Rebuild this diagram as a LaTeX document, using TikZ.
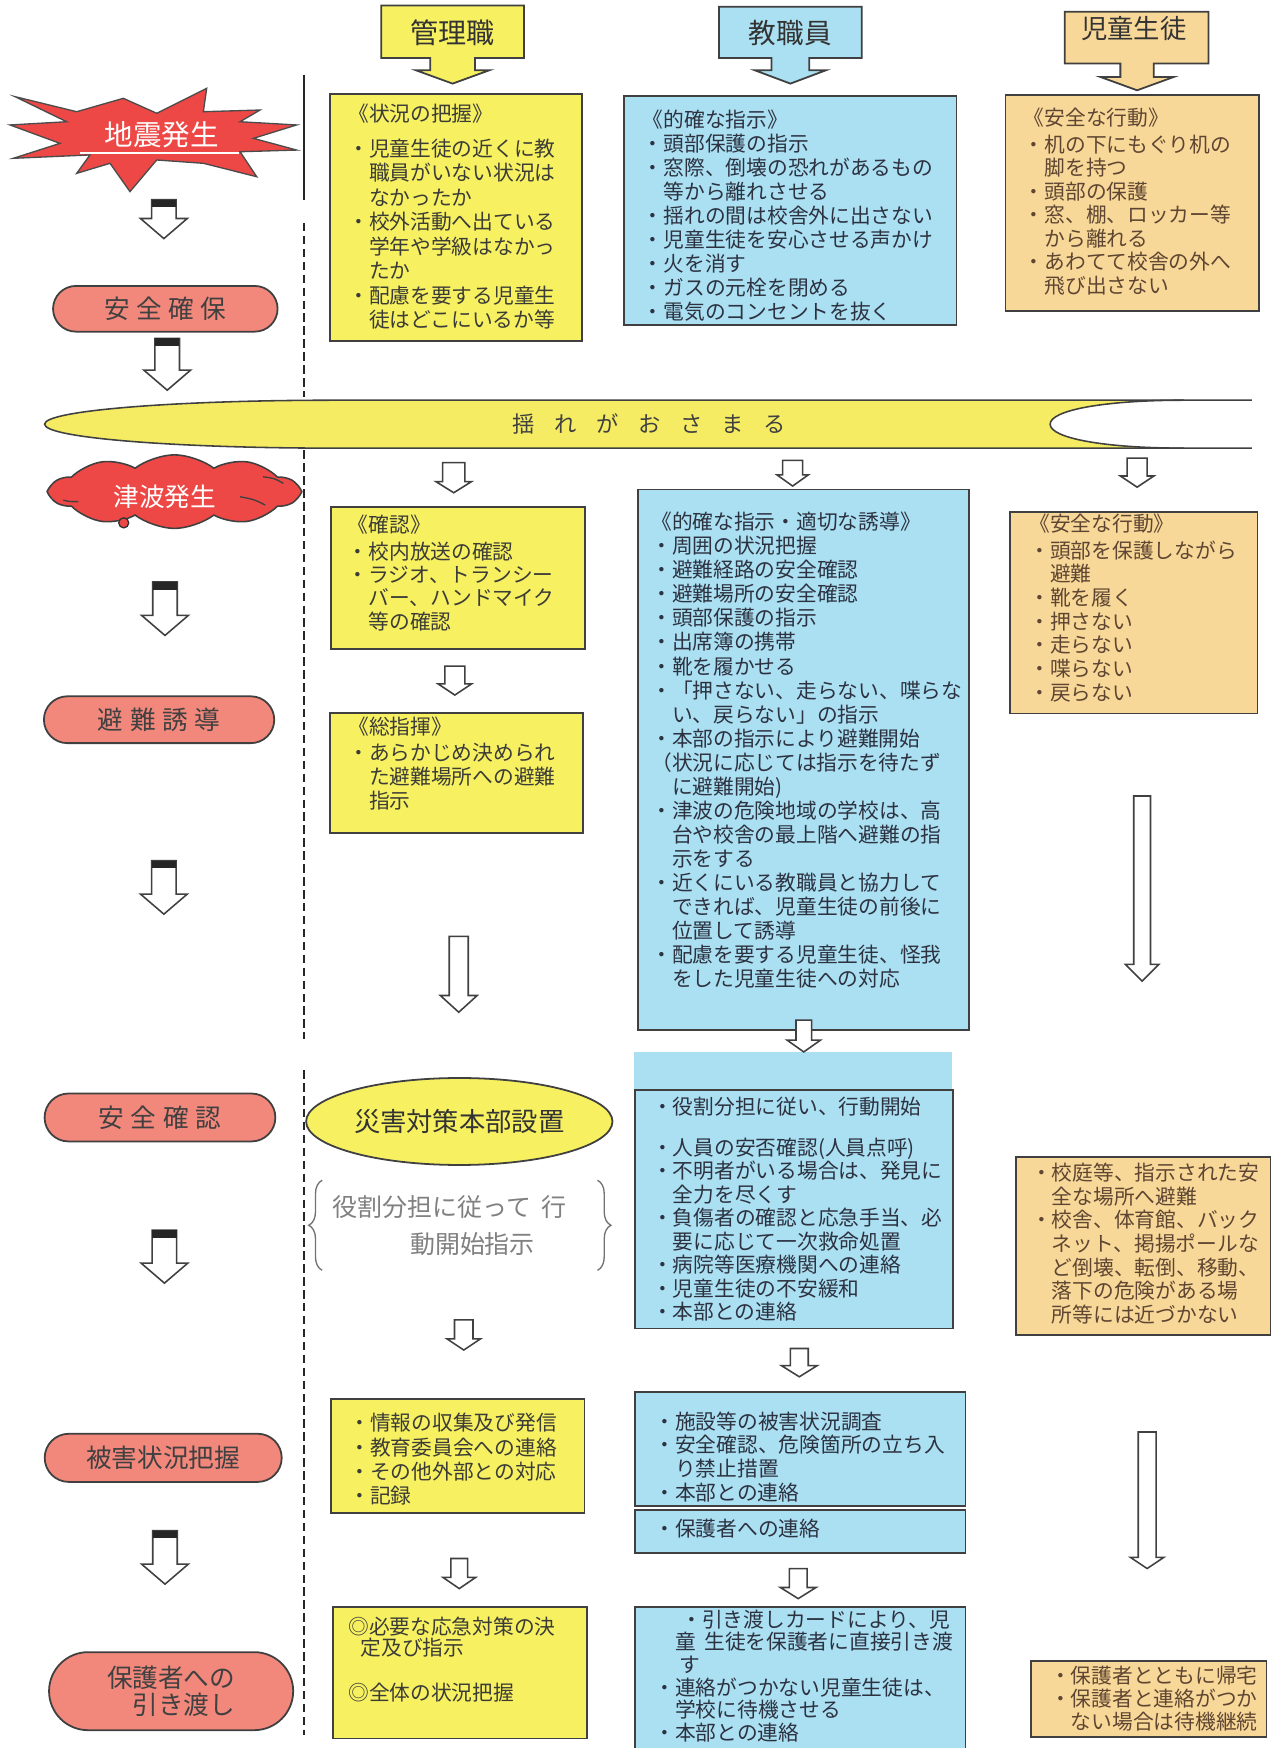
\documentclass[tikz,border=0pt]{standalone}
\usepackage{fontspec}
\setmainfont{Noto Sans CJK JP}
\usetikzlibrary{shapes.misc,shapes.geometric,shapes.symbols,fit,decorations.pathreplacing}
\definecolor{cy}{RGB}{247,241,98}
\definecolor{cb}{RGB}{170,224,242}
\definecolor{ct}{RGB}{248,216,152}
\definecolor{cs}{RGB}{242,136,124}
\definecolor{cr}{RGB}{238,72,70}
\definecolor{cband}{RGB}{245,236,100}
\definecolor{ty}{RGB}{60,60,55}
\definecolor{tbl}{RGB}{45,50,65}
\definecolor{ttn}{RGB}{95,70,50}
\newcommand{\ind}{\hspace*{1em}}
\newcommand{\mkbox}[6]{%
  \path (#3,#4) coordinate (#1-nw) (#5,#6) coordinate (#1-se);
  \node[#2, fit=(#1-nw)(#1-se)] (#1) {};}
\newcommand{\barrow}[7]{%
  \draw[blockarr] (#2-#5,#3) coordinate (#1) -- (#2+#5,#3) -- (#2+#5,#4-#7) -- (#2+#6,#4-#7) -- (#2,#4) -- (#2-#6,#4-#7) -- (#2-#5,#4-#7) -- cycle;}
\newcommand{\carrow}[4]{%
  \barrow{#1}{#2}{#3}{#4}{11}{21}{18}
  \fill[black!85] (#2-11,#3) rectangle (#2+11,#3+7);}
\newcommand{\tb}[6]{%
  \node[tnode, text=#2, font={\fontsize{9.3}{#5}\selectfont}] (#1) at (#3,#4-9.7) {#6};}
\begin{document}
\begin{tikzpicture}[x=0.5pt, y=-0.5pt,
  bx/.style={draw=black!75, line width=0.8pt, inner sep=0pt},
  ybox/.style={bx, fill=cy},
  bbox/.style={bx, fill=cb},
  tbox/.style={bx, fill=ct},
  nobox/.style={fill=cb, inner sep=0pt},
  tnode/.style={anchor=north west, inner sep=0pt, align=left, execute at begin node={\rule{0pt}{8.4pt}}},
  stad/.style={rounded rectangle, draw=black!75, line width=0.8pt, fill=cs, inner sep=0pt, text=black!75, font={\fontsize{11.5}{12}\selectfont}},
  blockarr/.style={draw=black!75, line width=0.7pt, fill=white, line join=miter},
  hdr/.style={draw=black!75, line width=0.8pt, line join=miter},
  htext/.style={inner sep=0pt, text=black!80},
  divider/.style={line width=0.9pt, black!85},
]
\useasboundingbox (0,0) rectangle (1152,1568);
\fill[white] (0,0) rectangle (1152,1568);

% ---------- column headers ----------
\draw[hdr, fill=cy] (342,5) -- (470,5) -- (470,52) -- (426,52) -- (426,63) -- (439,63) -- (406,75) -- (373,63) -- (386,63) -- (386,52) -- (342,52) -- cycle;
\node[htext, font={\fontsize{12.6}{14}\selectfont}] (hkanri) at (406,29) {管理職};
\draw[hdr, fill=cb] (645,6) -- (773,6) -- (773,52) -- (726,52) -- (726,63) -- (741,63) -- (709,75) -- (677,63) -- (692,63) -- (692,52) -- (645,52) -- cycle;
\node[htext, font={\fontsize{12.4}{14}\selectfont}] (hkyoshoku) at (709,30) {教職員};
\draw[hdr, fill=ct] (955,10.5) -- (1084,10.5) -- (1084,57) -- (1035,57) -- (1035,69) -- (1053,69) -- (1020,81) -- (987,69) -- (1005,69) -- (1005,57) -- (955,57) -- cycle;
\node[htext, font={\fontsize{11.8}{14}\selectfont}] (hjido) at (1017,26) {児童生徒};

% ---------- divider ----------
\draw[divider] (273,67) -- (273,179);
\draw[divider, dash pattern=on 3.8pt off 2pt] (273,200) -- (273,356);
\draw[divider, dash pattern=on 3.8pt off 2pt] (273,404) -- (273,932);
\draw[divider, dash pattern=on 3.8pt off 2pt] (273,960) -- (273,1556);

% ---------- earthquake star ----------
\draw[fill=cr, draw=black!70, line width=0.6pt, line join=miter]
 (13.5,86.7) -- (68.8,100.2) -- (110.6,88.2) -- (140.6,101.6) -- (185.4,79.2) -- (182.4,100.2) -- (233.3,98.7) -- (215.3,109.2) -- (266.1,112.1) -- (227.3,124.1) -- (266.1,134.6) -- (215.3,136.1) -- (230.3,158.5) -- (182.4,146.5) -- (140.6,143.5) -- (116.6,171.9) -- (98.7,146.5) -- (68.8,155.5) -- (80.7,139) -- (12,142) -- (53.8,128.6) -- (9,112.1) -- (59.8,109.2) -- cycle;
\draw[white, line width=0.8pt] (72,137.5) -- (214,137.5);
\node[inner sep=0pt, text=white, font={\fontsize{12.8}{14}\selectfont}] (jishin) at (145,121) {地震発生};

% ---------- left stage labels ----------
\node[stad, minimum width=100.7pt, minimum height=20.5pt] (anzenkakuho) at (148.3,277) {安\hspace{3pt}全\hspace{3pt}確\hspace{3pt}保\hspace{9pt}};
\node[cloud, cloud puffs=10, cloud puff arc=75, cloud ignores aspect, draw=black!75, line width=0.7pt, fill=cr, minimum width=111pt, minimum height=33pt, inner sep=0pt] (tsunami) at (156.5,441) {};
\draw[black!75, line width=0.6pt] (56.8,448.6) .. controls (62,450) .. (70.3,450);
\draw[black!75, line width=0.6pt] (215.3,445.6) .. controls (228,448) .. (237.8,453);
\draw[black!75, line width=0.6pt] (236,427.7) .. controls (246,429) .. (254.2,433.6);
\node[inner sep=0pt, text=white, font={\fontsize{11.5}{13}\selectfont}] (tsunamit) at (148,446) {津波発生};
\node[circle, draw=black!80, fill=cr, minimum size=4.5pt, inner sep=0pt, line width=0.6pt] (tsdot) at (111,469) {};
\node[stad, minimum width=103.3pt, minimum height=21pt] (hinan) at (142.7,645.6) {避\hspace{3pt}難\hspace{3pt}誘\hspace{3pt}導};
\node[stad, minimum width=103.5pt, minimum height=21.5pt] (anzenkakunin) at (143.5,1002.4) {安\hspace{3pt}全\hspace{3pt}確\hspace{3pt}認\hspace{9.8pt}};
\node[stad, minimum width=106.3pt, minimum height=21.6pt] (higai) at (146.4,1307.7) {被害状況把握};
\node[stad, minimum width=109.5pt, minimum height=35pt, align=right] (hikiwatashi) at (153.5,1517) {保護者への\\引き渡し};

% left arrows with black cap
\carrow{la1}{147}{179}{214}
\carrow{la2}{150}{303.5}{350}
\carrow{la3}{148}{522}{570}
\carrow{la4}{147}{772}{820}
\carrow{la5}{147.5}{1103.5}{1151}
\carrow{la6}{148}{1373}{1421}

% ---------- band ----------
\fill[cband] (40,380.5) .. controls (40,368) and (160,359) .. (300,359) -- (1060,359) .. controls (990,359) and (942,368) .. (942,380.5) .. controls (942,393) and (990,402) .. (1060,402) -- (300,402) .. controls (160,402) and (40,393) .. (40,380.5) -- cycle;
\draw[black!75, line width=0.7pt] (1123,359) -- (300,359) .. controls (160,359) and (40,368) .. (40,380.5) .. controls (40,393) and (160,402) .. (300,402) -- (1123,402);
\draw[black!75, line width=0.7pt] (1062,359) .. controls (990,359) and (942,368) .. (942,380.5) .. controls (942,393) and (990,402) .. (1062,402);
\node[inner sep=0pt, text=black!75, font={\fontsize{10}{12}\selectfont}] (yure) at (582.5,380.5) {揺\hspace{8.75pt}れ\hspace{8.75pt}が\hspace{8.75pt}お\hspace{8.75pt}さ\hspace{8.75pt}ま\hspace{8.75pt}る};

% ---------- column 2 : 管理職 ----------
\mkbox{a1}{ybox}{296}{84}{522}{306}
\tb{a1t}{ty}{312}{103}{10.98}{《状況の把握》\\[4.5pt]
・児童生徒の近くに教\\
\ind 職員がいない状況は\\
\ind なかったか\\
・校外活動へ出ている\\
\ind 学年や学級はなかっ\\
\ind たか\\
・配慮を要する児童生\\
\ind 徒はどこにいるか等}
\mkbox{a2}{ybox}{297}{455}{525}{582}
\tb{a2t}{ty}{311.6}{471}{10.5}{《確認》\\[1.5pt]
・校内放送の確認\\
・ラジオ、トランシー\\
\ind バー、ハンドマイク\\
\ind 等の確認}
\mkbox{a3}{ybox}{296}{639.6}{523}{747.3}
\tb{a3t}{ty}{312}{652}{10.8}{《総指揮》\\[1.1pt]
・あらかじめ決められ\\
\ind た避難場所への避難\\
\ind 指示}
\node[ellipse, draw=black!75, line width=0.8pt, fill=cy, minimum width=137.4pt, minimum height=39pt, inner sep=0pt, text=black!80, font={\fontsize{11.8}{13}\selectfont}] (honbu) at (412,1006) {災害対策本部設置};
\draw[decorate, decoration={brace, amplitude=6pt}, black!55, line width=0.6pt] (289,1139.5) -- (289,1058.7);
\draw[decorate, decoration={brace, amplitude=6pt}, black!55, line width=0.6pt] (536,1058.7) -- (536,1139.5);
\node[tnode, text=black!50, font={\fontsize{11.2}{16.6}\selectfont}, execute at begin node={\rule{0pt}{10pt}}] (yakuwari) at (298,1083.8-11.6) {役割分担に従って\hspace{0.4em}行\\\hspace*{3.1em}動開始指示};
\mkbox{a5}{ybox}{297}{1255}{524.4}{1357}
\tb{a5t}{ty}{313}{1277}{10.95}{・情報の収集及び発信\\
・教育委員会への連絡\\
・その他外部との対応\\
・記録}
\mkbox{a6}{ybox}{298.4}{1441.5}{526.6}{1559.5}
\tb{a6t}{ty}{312}{1459.4}{9.6}{◎必要な応急対策の決\\
\hspace*{0.6em}定及び指示\\[10.6pt]
◎全体の状況把握}

\barrow{ar1}{407}{415}{442}{10}{16}{10}
\barrow{ar2}{408}{597.5}{623.5}{9}{15}{10}
\barrow{ar3}{411.5}{840}{908}{8.5}{16.5}{15}
\barrow{ar4}{416}{1184}{1211}{8.3}{15}{10}
\barrow{ar5}{412}{1398}{1425}{7.5}{14.6}{10}

% ---------- column 3 : 教職員 ----------
\mkbox{b1}{bbox}{560}{86}{858}{291.6}
\tb{b1t}{tbl}{576.3}{107.7}{10.79}{《的確な指示》\\
・頭部保護の指示\\
・窓際、倒壊の恐れがあるもの\\
\ind 等から離れさせる\\
・揺れの間は校舎外に出さない\\
・児童生徒を安心させる声かけ\\
・火を消す\\
・ガスの元栓を閉める\\
・電気のコンセントを抜く}
\mkbox{b2}{bbox}{572}{439}{869}{924}
\tb{b2t}{tbl}{583.8}{468.8}{10.78}{《的確な指示・適切な誘導》\\
・周囲の状況把握\\
・避難経路の安全確認\\
・避難場所の安全確認\\
・頭部保護の指示\\
・出席簿の携帯\\
・靴を履かせる\\
・「押さない、走らない、喋らな\\
\ind い、戻らない」の指示\\
・本部の指示により避難開始\\
（状況に応じては指示を待たず\\
\ind に避難開始)\\
・津波の危険地域の学校は、高\\
\ind 台や校舎の最上階へ避難の指\\
\ind 示をする\\
・近くにいる教職員と協力して\\
\ind できれば、児童生徒の前後に\\
\ind 位置して誘導\\
・配慮を要する児童生徒、怪我\\
\ind をした児童生徒への対応}
\mkbox{strip}{nobox}{568.5}{943.6}{854}{978}
\mkbox{b3}{bbox}{569.5}{978}{855}{1191.6}
\tb{b3t}{tbl}{584.6}{993}{10.55}{・役割分担に従い、行動開始\\[7.95pt]
・人員の安否確認(人員点呼)\\
・不明者がいる場合は、発見に\\
\ind 全力を尽くす\\
・負傷者の確認と応急手当、必\\
\ind 要に応じて一次救命処置\\
・病院等医療機関への連絡\\
・児童生徒の不安緩和\\
・本部との連絡}
\mkbox{b4}{bbox}{569.5}{1248.6}{866}{1351}
\tb{b4t}{tbl}{586.7}{1275.5}{10.7}{・施設等の被害状況調査\\
・安全確認、危険箇所の立ち入\\
\ind り禁止措置\\
・本部との連絡}
\mkbox{b5}{bbox}{569.5}{1354.7}{866}{1393}
\tb{b5t}{tbl}{586.7}{1371}{10.7}{・保護者への連絡}
\mkbox{b6}{bbox}{569.5}{1441.5}{866}{1590}
\tb{b6t}{tbl}{586.7}{1453.4}{10.15}{\hspace*{1.3em}・引き渡しカードにより、児\\
\ind 童\hspace{0.4em}生徒を保護者に直接引き渡\\
\hspace*{1.2em}す\\
・連絡がつかない児童生徒は、\\
\ind 学校に待機させる\\
・本部との連絡}

\barrow{ar6}{711}{413}{436}{9}{14}{10}
\barrow{ar7}{721}{915}{943.6}{7}{15}{10.6}
\barrow{ar8}{717}{1209.6}{1235}{8}{16}{10}
\barrow{ar9}{716}{1407}{1434}{8}{16}{10}

% ---------- column 4 : 児童生徒 ----------
\mkbox{c1}{tbox}{902}{85}{1129}{278.7}
\tb{c1t}{ttn}{918}{106}{10.55}{《安全な行動》\\[1.5pt]
・机の下にもぐり机の\\
\ind 脚を持つ\\
・頭部の保護\\
・窓、棚、ロッカー等\\
\ind から離れる\\
・あわてて校舎の外へ\\
\ind 飛び出さない}
\mkbox{c2}{tbox}{906}{459}{1128}{640}
\tb{c2t}{ttn}{923}{470}{10.6}{《安全な行動》\\[1.6pt]
・頭部を保護しながら\\
\ind 避難\\
・靴を履く\\
・押さない\\
・走らない\\
・喋らない\\
・戻らない}
\mkbox{c3}{tbox}{911.6}{1037.7}{1139.6}{1197.7}
\tb{c3t}{ttn}{924.6}{1052.6}{10.6}{・校庭等、指示された安\\
\ind 全な場所へ避難\\
・校舎、体育館、バック\\
\ind ネット、掲揚ポールな\\
\ind ど倒壊、転倒、移動、\\
\ind 落下の危険がある場\\
\ind 所等には近づかない}
\mkbox{c4}{tbox}{925}{1490}{1136}{1558}
\tb{c4t}{ttn}{941.6}{1504}{10.2}{・保護者とともに帰宅\\
・保護者と連絡がつか\\
\ind ない場合は待機継続}

\barrow{ar10}{1020}{411}{437}{9}{15}{10}
\barrow{ar11}{1024.5}{714}{880}{7.5}{15}{15}
\barrow{ar12}{1029}{1284.5}{1407}{8}{15}{10}
\end{tikzpicture}
\end{document}
